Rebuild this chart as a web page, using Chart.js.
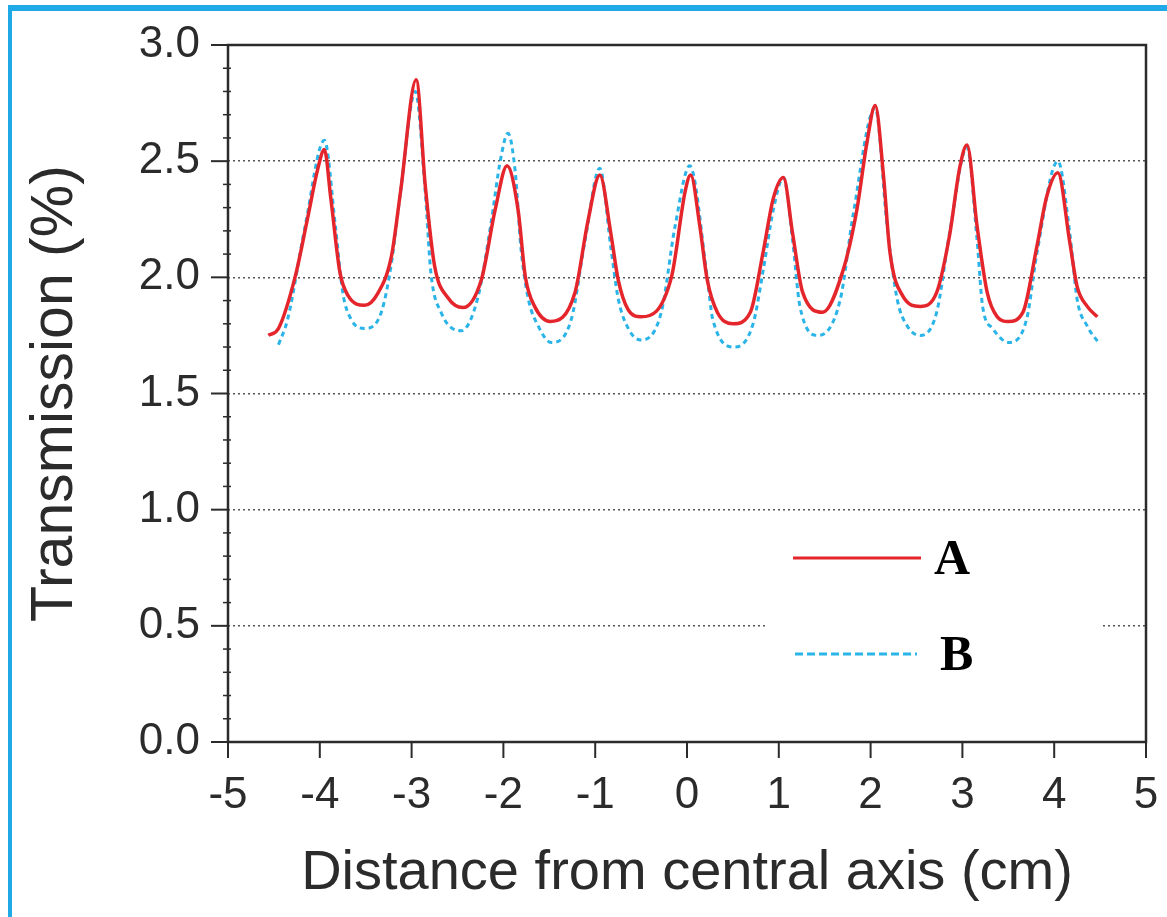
<!DOCTYPE html>
<html>
<head>
<meta charset="utf-8">
<script src="https://cdn.jsdelivr.net/npm/chart.js@4"></script>
<style>
  html, body { margin: 0; padding: 0; background: #fff; overflow: hidden; }
  #wrap { position: relative; width: 1167px; height: 917px; }
  #edge {
    position: absolute; left: 8px; top: 5px; width: 1180px; height: 906px;
    border-top: 6px solid #1fa9e6; border-left: 4px solid #1fa9e6; border-bottom: 3px solid #7cc9ee;
    pointer-events: none;
  }
</style>
</head>
<body>
<div id="wrap">
  <canvas id="chart" width="1167" height="917"></canvas>
  <div id="edge"></div>
</div>
<script>
// curve A (solid red)
const xA = [-4.56, -4.45, -4.27, -4.13, -4.02, -3.95, -3.88, -3.78, -3.69, -3.51, -3.37, -3.22, -3.12,
  -2.95, -2.85, -2.75, -2.60, -2.44, -2.24, -2.09, -1.96, -1.84, -1.76, -1.66, -1.49, -1.22, -1.08,
  -0.95, -0.83, -0.75, -0.64, -0.50, -0.17, -0.02, 0.04, 0.14, 0.22, 0.33, 0.50, 0.69, 0.83, 0.94,
  1.05, 1.15, 1.26, 1.48, 1.70, 1.85, 1.96, 2.05, 2.14, 2.21, 2.35, 2.54, 2.72, 2.86, 2.97,
  3.05, 3.16, 3.27, 3.38, 3.50, 3.66, 3.81, 3.92, 4.04, 4.17, 4.25, 4.36, 4.47];
const yA = [1.75, 1.78, 2.00, 2.26, 2.47, 2.55, 2.34, 2.02, 1.92, 1.88, 1.93, 2.09, 2.37,
  2.85, 2.39, 2.05, 1.91, 1.87, 1.99, 2.29, 2.48, 2.29, 2.00, 1.875, 1.81, 1.935, 2.24,
  2.44, 2.19, 1.99, 1.86, 1.83, 2.00, 2.37, 2.44, 2.22, 1.99, 1.85, 1.80, 1.85, 2.11, 2.34,
  2.43, 2.19, 1.935, 1.85, 2.03, 2.29, 2.58, 2.74, 2.44, 2.11, 1.92, 1.875, 1.935, 2.18, 2.47,
  2.57, 2.22, 1.935, 1.83, 1.81, 1.85, 2.13, 2.35, 2.45, 2.15, 1.96, 1.875, 1.83];

// curve B (dotted blue)
const xB = [-4.45, -4.35, -4.16, -3.95, -3.83, -3.75, -3.66, -3.51, -3.33, -3.22, -3.12,
  -2.96, -2.85, -2.79, -2.68, -2.46, -2.28, -2.14, -2.03, -1.95, -1.87, -1.81, -1.73, -1.62,
  -1.48, -1.26, -1.11, -0.95, -0.83, -0.75, -0.64, -0.50, -0.28, -0.13, 0.03, 0.22, 0.28,
  0.52, 0.72, 0.83, 0.94, 1.05, 1.15, 1.23, 1.43, 1.67, 1.81, 2.05, 2.18, 2.29, 2.40,
  2.54, 2.72, 2.86, 3.05, 3.16, 3.22, 3.33, 3.50, 3.70, 3.81, 4.04, 4.17, 4.25, 4.36, 4.48];
const yB = [1.71, 1.82, 2.22, 2.59, 2.22, 1.935, 1.82, 1.78, 1.85, 2.06, 2.37,
  2.80, 2.36, 2.02, 1.85, 1.77, 1.91, 2.22, 2.51, 2.62, 2.45, 2.13, 1.91, 1.79,
  1.72, 1.82, 2.16, 2.47, 2.13, 1.91, 1.78, 1.73, 1.85, 2.22, 2.48, 2.00, 1.82,
  1.70, 1.80, 2.03, 2.29, 2.43, 2.16, 1.875, 1.75, 1.905, 2.27, 2.73, 2.22, 1.905, 1.79,
  1.75, 1.85, 2.19, 2.56, 2.16, 1.875, 1.78, 1.72, 1.82, 2.10, 2.50, 2.19, 1.905, 1.79, 1.72];

const xTicks = [-5, -4, -3, -2, -1, 0, 1, 2, 3, 4, 5];
const yTicks = [0, 0.5, 1.0, 1.5, 2.0, 2.5, 3.0];
const seriesNames = ['A', 'B'];

const RED = '#e4262c';
const BLUE = '#2ab4e8';
const INK = '#2b2b2b';
const SANS = "'Liberation Sans', Arial, Helvetica, sans-serif";

function pts(xs, ys) {
  return xs.map((x, i) => ({ x: x, y: ys[i] }));
}

// frame, tick marks and the little legend
const decor = {
  id: 'decor',
  afterDraw(chart) {
    const ctx = chart.ctx;
    const a = chart.chartArea;
    const xs = chart.scales.x, ys = chart.scales.y;
    ctx.save();
    ctx.strokeStyle = INK;
    ctx.lineCap = 'butt';

    // x ticks
    ctx.lineWidth = 2;
    xTicks.forEach(v => {
      const px = xs.getPixelForValue(v);
      ctx.beginPath();
      ctx.moveTo(px, a.bottom);
      ctx.lineTo(px, a.bottom + 16);
      ctx.stroke();
    });

    // y ticks, minor every 0.1
    for (let k = 0; k <= 30; k++) {
      const py = ys.getPixelForValue(k / 10);
      ctx.beginPath();
      if (k % 5 === 0) {
        ctx.lineWidth = 2;
        ctx.moveTo(a.left - 17, py);
        ctx.lineTo(a.left, py);
      } else {
        ctx.lineWidth = 1.5;
        ctx.moveTo(a.left - 5, py);
        ctx.lineTo(a.left + 3, py);
      }
      ctx.stroke();
    }

    // frame
    ctx.lineWidth = 2.5;
    ctx.strokeRect(a.left, a.top, a.right - a.left, a.bottom - a.top);

    // legend
    const lx = xs.getPixelForValue(1.155), ly = ys.getPixelForValue(0.792);
    ctx.fillStyle = '#fff';
    ctx.fillRect(lx - 28, ly - 38, 335, 170);
    ctx.lineWidth = 3;
    ctx.strokeStyle = RED;
    ctx.beginPath();
    ctx.moveTo(lx, ly);
    ctx.lineTo(lx + 128, ly);
    ctx.stroke();
    ctx.strokeStyle = BLUE;
    ctx.setLineDash([8, 4]);
    ctx.beginPath();
    ctx.moveTo(lx + 2, ly + 96);
    ctx.lineTo(lx + 124, ly + 96);
    ctx.stroke();
    ctx.setLineDash([]);
    ctx.fillStyle = '#000';
    ctx.font = "bold 50px 'Liberation Serif', 'Times New Roman', serif";
    ctx.textBaseline = 'alphabetic';
    ctx.fillText(seriesNames[0], lx + 141, ly + 16);
    ctx.fillText(seriesNames[1], lx + 147, ly + 112);
    ctx.restore();
  }
};

new Chart(document.getElementById('chart'), {
  type: 'line',
  data: {
    datasets: [
      {
        label: seriesNames[0],
        data: pts(xA, yA),
        borderColor: RED,
        borderWidth: 3.5,
        pointRadius: 0,
        cubicInterpolationMode: 'monotone',
        fill: false
      },
      {
        label: seriesNames[1],
        data: pts(xB, yB),
        borderColor: BLUE,
        borderWidth: 3,
        borderDash: [5, 4],
        pointRadius: 0,
        cubicInterpolationMode: 'monotone',
        fill: false
      }
    ]
  },
  options: {
    responsive: false,
    animation: false,
    events: [],
    layout: { padding: { left: 0, top: 45, right: 21, bottom: 0 } },
    plugins: { legend: { display: false }, tooltip: { enabled: false } },
    scales: {
      x: {
        type: 'linear',
        min: -5,
        max: 5,
        afterBuildTicks: s => { s.ticks = xTicks.map(v => ({ value: v })); },
        afterFit: s => { s.height = 175; s.paddingLeft = 0; s.paddingRight = 0; },
        grid: { display: false },
        border: { display: false },
        ticks: {
          color: INK,
          font: { family: SANS, size: 44 },
          padding: 19,
          maxRotation: 0,
          callback: v => String(v)
        },
        title: {
          display: true,
          text: 'Distance from central axis (cm)',
          color: INK,
          font: { family: SANS, size: 56 },
          padding: { top: 0, bottom: 10 }
        }
      },
      y: {
        type: 'linear',
        min: 0,
        max: 3,
        afterBuildTicks: s => { s.ticks = yTicks.map(v => ({ value: v })); },
        afterFit: s => { s.width = 228; s.paddingTop = 0; s.paddingBottom = 0; },
        grid: {
          drawTicks: false,
          lineWidth: 1.5,
          color: c => (c.tick && (c.tick.value === 0 || c.tick.value === 3)) ? 'rgba(0,0,0,0)' : '#555'
        },
        border: { display: false, dash: [2, 3] },
        ticks: {
          color: INK,
          font: { family: SANS, size: 44 },
          padding: 28,
          callback: v => Number(v).toFixed(1)
        },
        title: {
          display: true,
          text: 'Transmission (%)',
          color: INK,
          font: { family: SANS, size: 59 },
          padding: { top: 20, bottom: 0 }
        }
      }
    }
  },
  plugins: [decor]
});
</script>
</body>
</html>
